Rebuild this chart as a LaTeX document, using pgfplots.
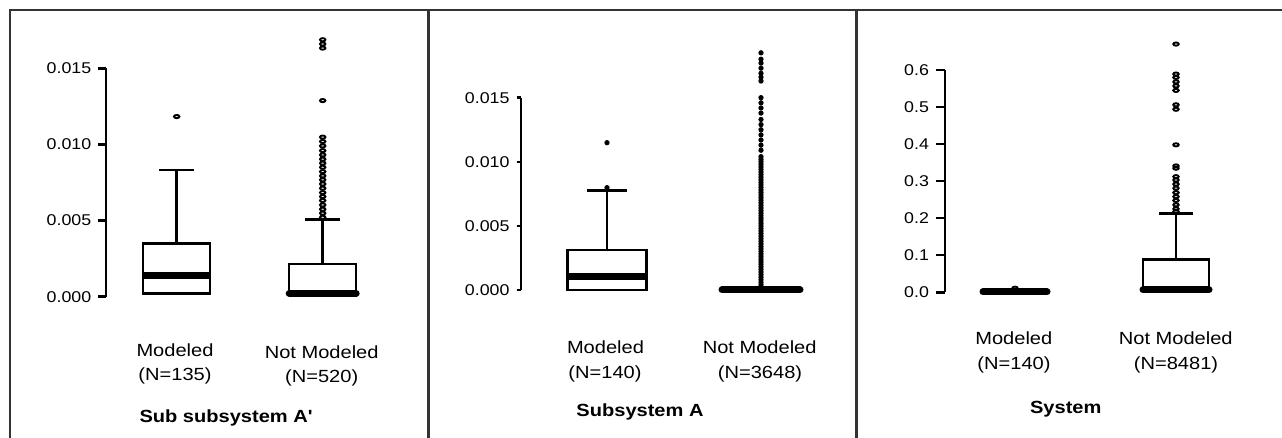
\documentclass[border=0pt]{standalone}
\usepackage{fontspec}
\setmainfont[FakeStretch=1.14]{Liberation Sans}
\usepackage{pgfplots}
\pgfplotsset{compat=1.18}
\usepgfplotslibrary{statistics}

\pgfplotsset{
  panel/.style={
    scale only axis, width=150pt,
    axis x line=none, axis y line*=left,
    xmin=0, xmax=3,
    ymin=0, clip=false,
    xtick=\empty,
    tick align=outside,
    y axis line style={line width=1.25pt, -},
    ytick style={line width=1.25pt, black},
    scaled y ticks=false,
    /pgf/number format/assume math mode=true,
    yticklabel style={font=\fontsize{7.8}{9}\selectfont, /pgf/number format/fixed, /pgf/number format/fixed zerofill},
    boxplot/draw direction=y,
    boxplot/every box/.style={draw=black, line width=1.25pt, fill=white},
    boxplot/every whisker/.style={line width=1.25pt},
    boxplot/every median/.style={line width=3.5pt},
  },
  roundmed/.style={boxplot/every median/.style={line width=3.5pt, line cap=round}},
  hollow/.style={black, mark=o, mark size=0.8pt, mark options={xscale=1.7, line width=0.95pt, fill=none}},
  dotmark/.style={black, mark=*, mark size=1.0pt, mark options={line width=0.6pt, fill=black}},
}

\begin{document}
\begin{tikzpicture}
\useasboundingbox (0,0) rectangle (641pt,219pt);

% ---------- Panel 1 (values in units of 0.001) ----------
\begin{axis}[panel, at={(53pt,70.65pt)}, anchor=south west, height=114.1pt,
  ymax=15, ytick={0,5,10,15},
  yticklabels={0.000,0.005,0.010,0.015}, major tick length=3.85pt]
\addplot[hollow, boxplot prepared={draw position=0.707, box extend=0.67, whisker extend=0.35,
  lower whisker=0.22, lower quartile=0.22, median=1.41,
  upper quartile=3.51, upper whisker=8.34}]
  table[row sep=\\, y index=0] {y\\ 11.84\\};
\addplot[hollow, roundmed, boxplot prepared={draw position=2.167, box extend=0.67, whisker extend=0.35,
  lower whisker=0.22, lower quartile=0.22, median=0.22,
  upper quartile=2.15, upper whisker=5.09}]
  table[row sep=\\, y index=0] {y\\ 16.89\\ 16.61\\ 16.34\\ 12.89\\ 10.49\\ 10.2\\ 9.91\\ 9.6\\ 9.32\\ 9.04\\ 8.78\\ 8.51\\ 8.22\\ 7.94\\ 7.68\\ 7.41\\ 7.13\\ 6.84\\ 6.58\\ 6.32\\ 6.03\\ 5.75\\ 5.49\\ 5.22\\};
\end{axis}

% ---------- Panel 2 (values in units of 0.001) ----------
\begin{axis}[panel, at={(260.5pt,74pt)}, anchor=south west, height=96.15pt,
  ymax=15, ytick={0,5,10,15},
  yticklabels={0.000,0.005,0.010,0.015}, major tick length=2.25pt]
\addplot[dotmark, boxplot prepared={draw position=0.86, box extend=0.79, whisker extend=0.40,
  lower whisker=0, lower quartile=0, median=1.09,
  upper quartile=3.12, upper whisker=7.75}]
  table[row sep=\\, y index=0] {y\\ 7.98\\ 11.49\\};
\addplot[dotmark, roundmed, boxplot prepared={draw position=2.40, box extend=0.78, whisker extend=0.40,
  lower whisker=0, lower quartile=0, median=0,
  upper quartile=0, upper whisker=0}]
  table[row sep=\\, y index=0] {y\\ 0.2\\ 0.4\\ 0.6\\ 0.8\\ 1.0\\ 1.2\\ 1.4\\ 1.6\\ 1.8\\ 2.0\\ 2.2\\ 2.4\\ 2.6\\ 2.8\\ 3.0\\ 3.2\\ 3.4\\ 3.6\\ 3.8\\ 4.0\\ 4.2\\ 4.4\\ 4.6\\ 4.8\\ 5.0\\ 5.2\\ 5.4\\ 5.6\\ 5.8\\ 6.0\\ 6.2\\ 6.4\\ 6.6\\ 6.8\\ 7.0\\ 7.2\\ 7.4\\ 7.6\\ 7.8\\ 8.0\\ 8.2\\ 8.4\\ 8.6\\ 8.8\\ 9.0\\ 9.2\\ 9.4\\ 9.6\\ 9.8\\ 10.0\\ 10.2\\ 10.4\\ 10.9\\ 11.3\\ 11.7\\ 12.1\\ 12.5\\ 12.9\\ 13.3\\ 13.8\\ 14.2\\ 14.6\\ 15.0\\ 16.3\\ 16.6\\ 16.9\\ 17.3\\ 17.7\\ 18.0\\ 18.5\\};
\end{axis}

% ---------- Panel 3 ----------
\begin{axis}[panel, at={(472.5pt,72.85pt)}, anchor=south west, height=111.15pt,
  ymax=0.6, ytick={0,0.1,0.2,0.3,0.4,0.5,0.6},
  yticklabel style={/pgf/number format/precision=1}, major tick length=4.5pt]
\addplot[hollow, roundmed, boxplot prepared={draw position=0.70, box extend=0.64, whisker extend=0.32,
  lower whisker=0, lower quartile=0, median=0.001,
  upper quartile=0.003, upper whisker=0.008}]
  table[row sep=\\, y index=0] {y\\ 0.011\\};
\addplot[hollow, roundmed, boxplot prepared={draw position=2.31, box extend=0.66, whisker extend=0.34,
  lower whisker=0.0062, lower quartile=0.0062, median=0.0062,
  upper quartile=0.0891, upper whisker=0.2132}]
  table[row sep=\\, y index=0] {y\\ 0.670\\ 0.589\\ 0.580\\ 0.568\\ 0.557\\ 0.545\\ 0.506\\ 0.494\\ 0.398\\ 0.341\\ 0.335\\ 0.312\\ 0.303\\ 0.292\\ 0.281\\ 0.269\\ 0.258\\ 0.248\\ 0.236\\ 0.225\\ 0.218\\};
\end{axis}

% ---------- frame ----------
\draw[line width=1.3pt, black!80] (5pt,-5pt) -- (5pt,214pt) -- (650pt,214pt);
\draw[line width=1.3pt, black!80] (214.25pt,214pt) -- (214.25pt,-5pt);
\draw[line width=1.3pt, black!80] (428.35pt,214pt) -- (428.35pt,-5pt);

% ---------- labels ----------
\begin{scope}[every node/.style={anchor=base, inner sep=0pt, font=\fontsize{8.8}{10}\selectfont}]
\node at (87.5pt,40.65pt) {Modeled};
\node at (87.5pt,28.5pt) {(N=135)};
\node at (160.85pt,39.85pt) {Not Modeled};
\node at (160.85pt,27.65pt) {(N=520)};
\node[font=\fontsize{8.8}{10}\selectfont\bfseries] at (112.9pt,7.65pt) {Sub subsystem A\textquotesingle};

\node at (302.75pt,42pt) {Modeled};
\node at (302.5pt,29.85pt) {(N=140)};
\node at (379.85pt,42pt) {Not Modeled};
\node at (380pt,29.85pt) {(N=3648)};
\node[font=\fontsize{8.8}{10}\selectfont\bfseries] at (320pt,10.65pt) {Subsystem A};

\node at (506.9pt,46.5pt) {Modeled};
\node at (507pt,34.35pt) {(N=140)};
\node at (587.9pt,46.5pt) {Not Modeled};
\node at (588pt,34.35pt) {(N=8481)};
\node[font=\fontsize{8.8}{10}\selectfont\bfseries] at (532.9pt,12.35pt) {System};
\end{scope}
\end{tikzpicture}
\end{document}
